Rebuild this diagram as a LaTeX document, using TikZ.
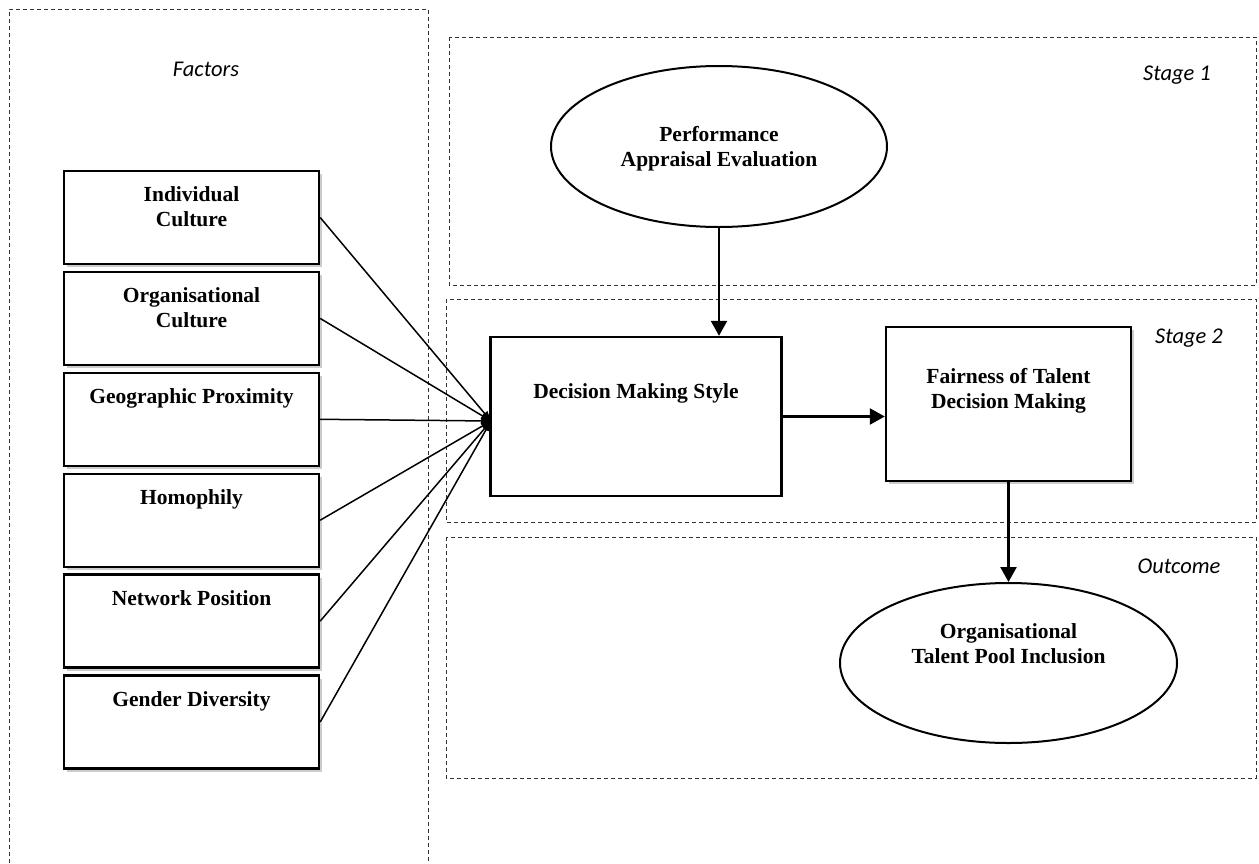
\documentclass[tikz,border=0pt]{standalone}
\usepackage{fontspec}
\setmainfont{Liberation Serif}
\newfontfamily\labelfont{Carlito}
\usetikzlibrary{positioning,shapes.geometric,arrows.meta,shadows}

\begin{document}
\begin{tikzpicture}[x=1pt,y=-1pt,node distance=5.5pt,
	every node/.style={font=\fontsize{21.5}{25}\selectfont\bfseries},
	box/.style={draw,fill=white,line width=2.4pt,inner sep=0pt,align=center},
	shade/.style={drop shadow={shadow xshift=2.5pt,shadow yshift=-3pt,opacity=0.4}},
	factor/.style={box,shade,minimum width=255pt,minimum height=93pt,
		text height=30.6pt,text depth=62.4pt},
	twoline/.style={text height=55.6pt,text depth=37.4pt},
	oval/.style={ellipse,draw,fill=white,line width=2pt,inner sep=0pt,align=center,
		minimum width=337pt,minimum height=160pt},
	dashbox/.style={draw=black!80,line width=0.9pt,dash pattern=on 4pt off 3pt},
	stagelabel/.style={font=\labelfont\itshape\fontsize{22.5}{26}\selectfont},
	fan/.style={line width=1.5pt,-{Triangle[length=10pt,width=7pt]}},
	link/.style={line width=2.4pt,-{Triangle[length=15pt,width=16pt]}}]
	
	\useasboundingbox (0,0) rectangle (1259,863);
	
	% the dashed frames: factors on the left, the stages on the right
	\draw[dashbox] (9,863) -- (9,9) -- (428,9) -- (428,863);
	\draw[dashbox] (449,37) rectangle (1256,285);
	\draw[dashbox] (446,299) rectangle (1256,522);
	\draw[dashbox] (446,537) rectangle (1256,778);
	
	\node[stagelabel] (lfactors) at (206,69) {Factors};
	\node[stagelabel] (lstage1) at (1177,75) {Stage 1};
	\node[stagelabel] (lstage2) at (1189,338) {Stage 2};
	\node[stagelabel] (loutcome) at (1179,566) {Outcome};
	
	% the six factors, stacked
	\node[factor,twoline] (indiv) at (191.5,217.5) {Individual\\Culture};
	\node[factor,twoline] (orgcult) [below = of indiv] {Organisational\\Culture};
	\node[factor] (geo) [below = of orgcult] {Geographic Proximity};
	\node[factor] (homo) [below = of geo] {Homophily};
	\node[factor] (netpos) [below = of homo] {Network Position};
	\node[factor] (gender) [below = of netpos] {Gender Diversity};
	
	% stages and outcome
	\node[oval,minimum width=336pt,minimum height=161pt,text height=55pt,text depth=15pt]
		(appraisal) at (719,146.5) {Performance\\Appraisal Evaluation};
	\node[box,minimum width=291pt,minimum height=159pt,text height=61.6pt,text depth=97.4pt]
		(style) at (636,416.5) {Decision Making Style};
	\node[box,shade,minimum width=245pt,minimum height=154pt,text height=81.6pt,text depth=72.4pt]
		(fairness) at (1008.5,404) {Fairness of Talent\\Decision Making};
	\node[oval,text height=30pt,text depth=30pt]
		(pool) at (1008.5,663) {Organisational\\Talent Pool Inclusion};
	
	% all factors feed the decision making style
	\coordinate (hub) at (491,421);
	\foreach \f in {indiv,orgcult,geo,homo,netpos,gender}
		\draw[fan] (\f.east) -- (hub);
	
	\draw[link] (appraisal.south) -- (appraisal.south |- style.north);
	\draw[link] (style.east) -- (style.east -| fairness.west);
	\draw[link] (fairness.south) -- (pool.north);
	
\end{tikzpicture}
\end{document}
